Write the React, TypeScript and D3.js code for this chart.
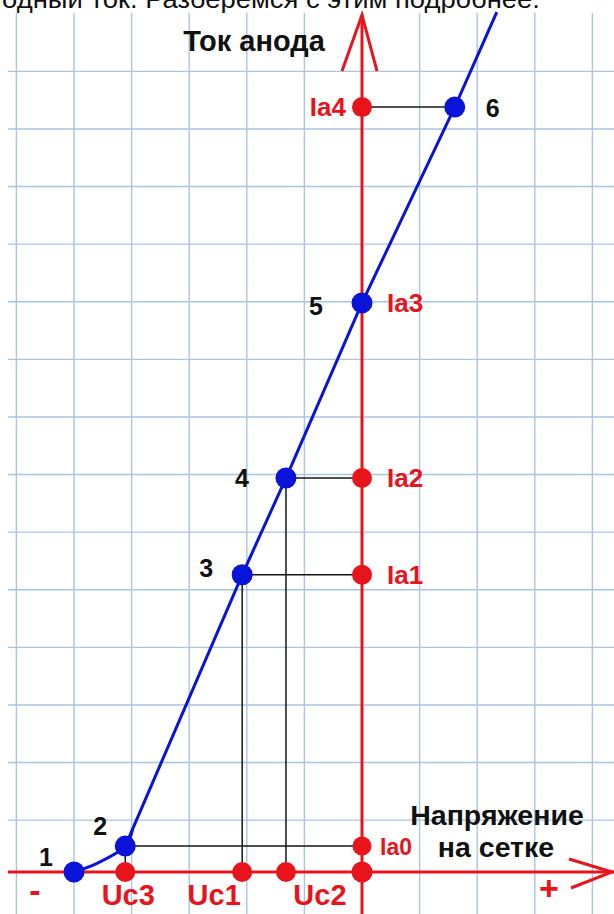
import React from "react";
import * as d3 from "d3";

// curve samples (grid voltage u, anode current i) in grid units
const kneeU = [-5.0, -4.6, -4.11, -3.98];
const kneeI = [0, 0.15, 0.45, 0.75];
const slopeU = [-4.11, -2.08, -1.32, 0, 1.61, 2.34];
const slopeI = [0.45, 5.16, 6.84, 9.88, 13.28, 14.93];

// numbered working points
const pointNames = ["1", "2", "3", "4", "5", "6"];
const pointU = [-5.0, -4.11, -2.08, -1.32, 0, 1.61];
const pointI = [0, 0.45, 5.16, 6.84, 9.88, 13.28];

// current ticks on the vertical axis
const currentNames = ["Ia0", "Ia1", "Ia2", "Ia3", "Ia4"];
const currentValues = [0.45, 5.16, 6.84, 9.88, 13.28];

// voltage ticks on the horizontal axis
const voltageNames = ["Uc3", "Uc1", "Uc2"];
const voltageValues = [-4.11, -2.08, -1.32];

const gridU = d3.range(-6, 5, 1);
const gridI = d3.range(0.9, 14.5, 1);

const W = 614;
const H = 914;

export default function App() {
  const x = d3.scaleLinear().domain([0, 1]).range([362, 362 + 57.6]);
  const y = d3.scaleLinear().domain([0, 1]).range([872, 872 - 57.6]);

  const knee = d3
    .line()
    .curve(d3.curveCatmullRom)(kneeU.map((u, k) => [x(u), y(kneeI[k])] as [number, number]));
  const slope = d3
    .line()
    .curve(d3.curveLinear)(slopeU.map((u, k) => [x(u), y(slopeI[k])] as [number, number]));

  const red = "#e8141c";
  const blue = "#0a14d8";
  const font = "'Liberation Sans', Arial, sans-serif";
  const x0 = x(0);
  const yAxis = y(0);

  const numOffs: [number, number][] = [
    [-28, -6],
    [-25, -11],
    [-36, 2],
    [-44, 9],
    [-46, 12],
    [38, 10],
  ];

  return (
    <svg
      width={W}
      height={H}
      style={{ position: "absolute", left: 0, top: 0, background: "#fff" }}
    >
      <rect x={0} y={0} width={W} height={H} fill="#fff" />
      {/* grid */}
      <g stroke="#a8c5e2" strokeWidth={1.4}>
        {gridU.map((u) => (
          <line key={"v" + u} x1={x(u)} x2={x(u)} y1={13} y2={H} />
        ))}
        {gridI.map((i) => (
          <line key={"h" + i} x1={8} x2={W} y1={y(i)} y2={y(i)} />
        ))}
      </g>

      {/* header text (clipped at the top, as in the source) */}
      <text
        x={2}
        y={8}
        fontFamily={font}
        fontSize={26}
        textLength={538}
        lengthAdjust="spacingAndGlyphs"
        fill="#111"
      >
        одный ток. Разберемся с этим подробнее.
      </text>

      {/* connector lines */}
      <g stroke="#151515" strokeWidth={1.5}>
        {[1, 2, 3].map((k) => (
          <line key={"hl" + k} x1={x(pointU[k])} x2={x0} y1={y(pointI[k])} y2={y(pointI[k])} />
        ))}
        <line x1={x0} x2={x(pointU[5])} y1={y(pointI[5])} y2={y(pointI[5])} />
        {[1, 2, 3].map((k) => (
          <line key={"vl" + k} x1={x(pointU[k])} x2={x(pointU[k])} y1={y(pointI[k])} y2={yAxis} />
        ))}
      </g>

      {/* axes */}
      <g stroke={red} strokeWidth={3} fill="none">
        <line x1={8} x2={W} y1={yAxis} y2={yAxis} />
        <line x1={x0} x2={x0} y1={15} y2={H} />
        <polyline points={`342,71 ${x0},15 377,71`} strokeWidth={3} />
        <polyline points={`569,859 612,872 571,888`} strokeWidth={3} />
      </g>

      {/* curve */}
      <path d={knee || ""} fill="none" stroke={blue} strokeWidth={3} />
      <path d={slope || ""} fill="none" stroke={blue} strokeWidth={3} />

      {/* red dots */}
      <g fill={red}>
        {currentValues.map((v, k) => (
          <circle key={"cd" + k} cx={x0} cy={y(v)} r={k === 0 ? 9.5 : 10} />
        ))}
        {voltageValues.map((v, k) => (
          <circle key={"vd" + k} cx={x(v)} cy={yAxis} r={10} />
        ))}
        <circle cx={x0} cy={yAxis} r={10.5} />
      </g>

      {/* blue dots */}
      <g fill={blue}>
        {pointU.map((u, k) => (
          <circle key={"bd" + k} cx={x(u)} cy={y(pointI[k])} r={10.5} />
        ))}
      </g>

      {/* point numbers */}
      <g fontFamily={font} fontWeight="bold" fontSize={25} fill="#111" textAnchor="middle">
        {pointNames.map((n, k) => (
          <text key={"pn" + n} x={x(pointU[k]) + numOffs[k][0]} y={y(pointI[k]) + numOffs[k][1]}>
            {n}
          </text>
        ))}
      </g>

      {/* current labels */}
      <g fontFamily={font} fontWeight="bold" fill={red}>
        {currentNames.map((n, k) => {
          const isLeft = n === "Ia4";
          return (
            <text
              key={n}
              x={isLeft ? x0 - 16 : x0 + (k === 0 ? 18 : 25)}
              y={y(currentValues[k]) + 9}
              textAnchor={isLeft ? "end" : "start"}
              fontSize={k === 0 ? 23 : 26}
            >
              {n}
            </text>
          );
        })}
      </g>

      {/* voltage labels */}
      <g fontFamily={font} fontWeight="bold" fontSize={29} fill={red} textAnchor="middle">
        {voltageNames.map((n, k) => {
          const offs = [3, -28, 34];
          return (
            <text key={n} x={x(voltageValues[k]) + offs[k]} y={yAxis + 33}>
              {n}
            </text>
          );
        })}
        <text x={35} y={yAxis + 30} fontSize={34}>-</text>
        <text x={549} y={yAxis + 28} fontSize={34}>+</text>
      </g>

      {/* axis titles */}
      <g fontFamily={font} fontWeight="bold" fill="#111">
        <text x={254} y={51} fontSize={29} textAnchor="middle">Ток анода</text>
        <text x={497} y={825} fontSize={28.5} textAnchor="middle">Напряжение</text>
        <text x={496} y={857} fontSize={28.5} textAnchor="middle">на сетке</text>
      </g>
    </svg>
  );
}
